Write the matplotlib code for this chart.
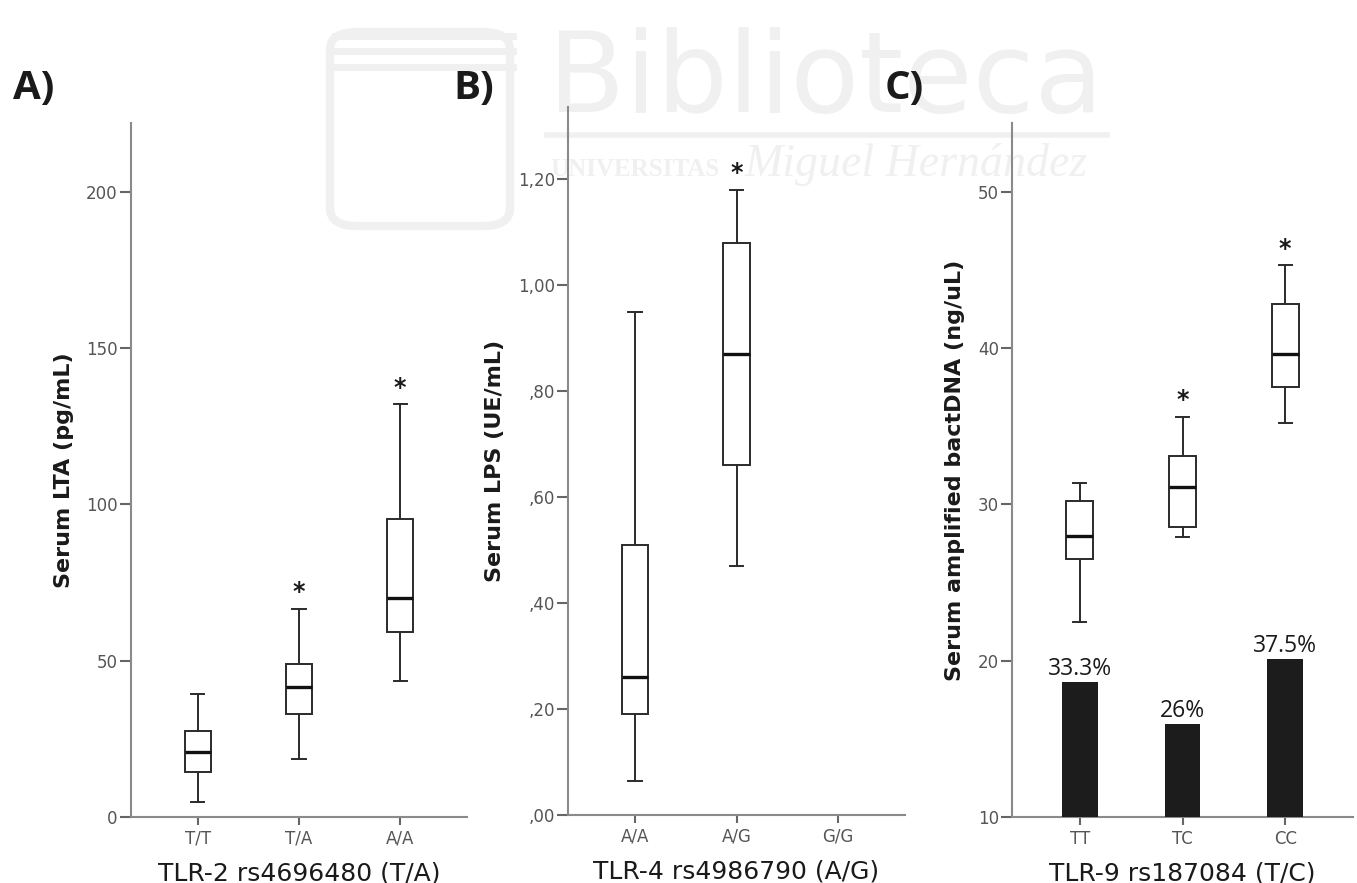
import matplotlib
matplotlib.use("Agg")
import matplotlib.pyplot as plt
from matplotlib.patches import FancyBboxPatch
from matplotlib.lines import Line2D

# TLR-2 rs4696480 -> serum LTA (pg/mL)
tlr2_groups = ["T/T", "T/A", "A/A"]
tlr2_whislo = [4.8, 18.4, 43.6]
tlr2_q1 = [14.4, 33.1, 59.1]
tlr2_med = [20.8, 41.5, 70.0]
tlr2_q3 = [27.6, 49.0, 95.4]
tlr2_whishi = [39.5, 66.6, 132.0]
tlr2_signif = [False, True, True]

# TLR-4 rs4986790 -> serum LPS (UE/mL), no G/G carriers
tlr4_groups = ["A/A", "A/G", "G/G"]
tlr4_whislo = [0.065, 0.47]
tlr4_q1 = [0.19, 0.66]
tlr4_med = [0.26, 0.87]
tlr4_q3 = [0.51, 1.08]
tlr4_whishi = [0.95, 1.18]
tlr4_signif = [False, True]

# TLR-9 rs187084 -> serum amplified bactDNA (ng/uL)
tlr9_groups = ["TT", "TC", "CC"]
tlr9_whislo = [22.5, 27.9, 35.2]
tlr9_q1 = [26.5, 28.55, 37.5]
tlr9_med = [28.0, 31.1, 39.6]
tlr9_q3 = [30.2, 33.1, 42.8]
tlr9_whishi = [31.4, 35.6, 45.3]
tlr9_signif = [False, True, True]
tlr9_pct = [33.3, 26.0, 37.5]

BOX_COLOR = "#2b2b2b"
AXIS_COLOR = "#8a8a8a"
TICK_TEXT = "#555555"


def box_stats(lo, q1, med, q3, hi):
    return [dict(whislo=a, q1=b, med=c, q3=d, whishi=e, fliers=[])
            for a, b, c, d, e in zip(lo, q1, med, q3, hi)]


def draw_panel(ax, groups, stats, signif, ylim, yticks, yticklabels, ylabel, xlabel):
    pos = list(range(len(stats)))
    ax.bxp(stats, positions=pos, widths=0.26, capwidths=0.13, showfliers=False,
           patch_artist=True,
           boxprops=dict(facecolor="white", edgecolor=BOX_COLOR, linewidth=1.4),
           whiskerprops=dict(color=BOX_COLOR, linewidth=1.4),
           capprops=dict(color=BOX_COLOR, linewidth=1.4),
           medianprops=dict(color="#111111", linewidth=2.4))
    for p, s, flag in zip(pos, stats, signif):
        if flag:
            ax.annotate("*", (p, s["whishi"]), xytext=(0, 7), textcoords="offset points",
                        ha="center", va="baseline", fontsize=17, fontweight="bold",
                        color="#1a1a1a")
    ax.set_facecolor("none")
    ax.set_xlim(-0.66, len(groups) - 1 + 0.66)
    ax.set_ylim(*ylim)
    ax.set_xticks(range(len(groups)))
    ax.set_xticklabels(groups)
    ax.set_yticks(yticks)
    ax.set_yticklabels(yticklabels)
    for side in ["top", "right"]:
        ax.spines[side].set_visible(False)
    for side in ["left", "bottom"]:
        ax.spines[side].set_color(AXIS_COLOR)
        ax.spines[side].set_linewidth(1.5)
    ax.tick_params(axis="y", length=8, width=1.5, color="#666666", pad=1.5,
                   labelsize=12, labelcolor=TICK_TEXT)
    ax.tick_params(axis="x", length=6, width=1.5, color="#666666", pad=3,
                   labelsize=12, labelcolor=TICK_TEXT)
    ax.set_ylabel(ylabel, fontsize=16, fontweight="bold", color="#1a1a1a", labelpad=9)
    ax.set_xlabel(xlabel, fontsize=18, color="#1a1a1a", labelpad=10)


fig = plt.figure(figsize=(13.57, 8.83), dpi=100)

# faint library watermark behind the panels
wm = "#f0f0f0"
fig.text(548 / 1357, 1 - 112 / 883, "Biblioteca", fontsize=81, family="DejaVu Sans",
         color=wm, ha="left", va="baseline", zorder=-5)
fig.add_artist(Line2D([547 / 1357, 1107 / 1357], [1 - 135 / 883, 1 - 135 / 883],
                      color=wm, linewidth=4, zorder=-5))
fig.text(550 / 1357, 1 - 176 / 883, "UNIVERSITAS",
         fontsize=18, family="Liberation Serif", fontweight="bold", color=wm,
         ha="left", va="baseline", zorder=-5)
fig.text(745 / 1357, 1 - 176 / 883, "Miguel Hernández",
         fontsize=33, family="Liberation Serif", style="italic", color=wm,
         ha="left", va="baseline", zorder=-5)
fig.add_artist(FancyBboxPatch((330 / 1357, 1 - 226 / 883), 180 / 1357, 194 / 883,
                              boxstyle="round,pad=0,rounding_size=0.02",
                              transform=fig.transFigure, fill=False,
                              edgecolor=wm, linewidth=6, zorder=-5))
for yy in [36, 51, 67]:
    fig.add_artist(Line2D([335 / 1357, 513 / 1357], [1 - yy / 883, 1 - yy / 883],
                          color=wm, linewidth=5, zorder=-5))

ax_a = fig.add_axes([131 / 1357, 1 - 817 / 883, 336 / 1357, 694 / 883])
ax_b = fig.add_axes([568 / 1357, 1 - 815 / 883, 337 / 1357, 708 / 883])
ax_c = fig.add_axes([1012 / 1357, 1 - 817 / 883, 341 / 1357, 694 / 883])

draw_panel(ax_a, tlr2_groups,
           box_stats(tlr2_whislo, tlr2_q1, tlr2_med, tlr2_q3, tlr2_whishi),
           tlr2_signif, (0, 222), [0, 50, 100, 150, 200],
           ["0", "50", "100", "150", "200"],
           "Serum LTA (pg/mL)", "TLR-2 rs4696480 (T/A)")

draw_panel(ax_b, tlr4_groups,
           box_stats(tlr4_whislo, tlr4_q1, tlr4_med, tlr4_q3, tlr4_whishi),
           tlr4_signif, (0, 1.336), [0, 0.2, 0.4, 0.6, 0.8, 1.0, 1.2],
           [",00", ",20", ",40", ",60", ",80", "1,00", "1,20"],
           "Serum LPS (UE/mL)", "TLR-4 rs4986790 (A/G)")

draw_panel(ax_c, tlr9_groups,
           box_stats(tlr9_whislo, tlr9_q1, tlr9_med, tlr9_q3, tlr9_whishi),
           tlr9_signif, (10, 54.4), [10, 20, 30, 40, 50],
           ["10", "20", "30", "40", "50"],
           "Serum amplified bactDNA (ng/uL)", "TLR-9 rs187084 (T/C)")

# percentage bars share panel C on their own hidden scale
ax_pct = ax_c.twinx()
ax_pct.set_ylim(9.44, 132.4)
ax_pct.set_axis_off()
ax_pct.bar(range(len(tlr9_pct)), tlr9_pct, width=0.35, color="#1c1c1c")
for i, v in enumerate(tlr9_pct):
    ax_pct.annotate(f"{v:g}%", (i, v), xytext=(0, 5), textcoords="offset points",
                    ha="center", va="baseline", fontsize=16.5, family="Open Sans",
                    color="#1a1a1a")

for x, lab in [(13, "A)"), (453, "B)"), (885, "C)")]:
    fig.text(x / 1357, 1 - 99 / 883, lab, fontsize=29, family=["Open Sans", "DejaVu Sans"],
             fontweight="bold", color="#1a1a1a", ha="left", va="baseline")

fig.savefig("out.png", dpi=100)
